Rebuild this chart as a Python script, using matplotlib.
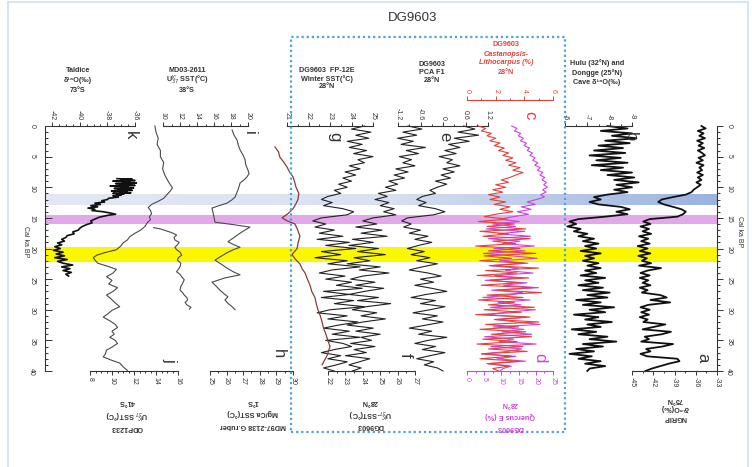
import matplotlib
matplotlib.use('Agg')
import matplotlib.pyplot as plt
from matplotlib.patches import Rectangle
from matplotlib.ticker import MultipleLocator
from matplotlib.colors import LinearSegmentedColormap
import numpy as np

plt.rcParams['font.family'] = ['Liberation Sans', 'DejaVu Sans']

# ---------------- data ----------------
age_04 = [0.0, 0.4, 0.8, 1.2, 1.6, 2.0, 2.4, 2.8, 3.2, 3.6,
          4.0, 4.4, 4.8, 5.2, 5.6, 6.0, 6.4, 6.8, 7.2, 7.6,
          8.0, 8.4, 8.8, 9.2, 9.6, 10.0, 10.4, 10.8, 11.2, 11.6,
          12.0, 12.4, 12.8, 13.2, 13.6, 14.0, 14.4, 14.8, 15.2, 15.6,
          16.0, 16.4, 16.8, 17.2, 17.6, 18.0, 18.4, 18.8, 19.2, 19.6,
          20.0, 20.4, 20.8, 21.2, 21.6, 22.0, 22.4, 22.8, 23.2, 23.6,
          24.0, 24.4, 24.8, 25.2, 25.6, 26.0, 26.4, 26.8, 27.2, 27.6,
          28.0, 28.4, 28.8, 29.2, 29.6, 30.0, 30.4, 30.8, 31.2, 31.6,
          32.0, 32.4, 32.8, 33.2, 33.6, 34.0, 34.4, 34.8, 35.2, 35.6,
          36.0, 36.4, 36.8, 37.2, 37.6, 38.0, 38.4, 38.8, 39.2, 39.6,
          40.0]

age_05 = [0.0, 0.5, 1.0, 1.5, 2.0, 2.5, 3.0, 3.5, 4.0, 4.5,
          5.0, 5.5, 6.0, 6.5, 7.0, 7.5, 8.0, 8.5, 9.0, 9.5,
          10.0, 10.5, 11.0, 11.5, 12.0, 12.5, 13.0, 13.5, 14.0, 14.5,
          15.0, 15.5, 16.0, 16.5, 17.0, 17.5, 18.0, 18.5, 19.0, 19.5,
          20.0, 20.5, 21.0, 21.5, 22.0, 22.5, 23.0, 23.5, 24.0, 24.5,
          25.0, 25.5, 26.0, 26.5, 27.0, 27.5, 28.0, 28.5, 29.0, 29.5,
          30.0, 30.5, 31.0, 31.5, 32.0, 32.5, 33.0, 33.5, 34.0, 34.5,
          35.0, 35.5, 36.0, 36.5, 37.0, 37.5, 38.0, 38.5, 39.0, 39.5,
          40.0]

# (a) NGRIP d18O
ngrip_d18o = [-35.2, -34.6, -35.7, -34.9, -35.5, -34.7, -35.8, -35.0, -35.6, -34.8,
              -35.7, -35.1, -34.7, -35.6, -35.0, -35.9, -34.9, -35.5, -35.1, -35.8,
              -35.0, -35.7, -35.2, -35.9, -35.3, -35.8, -36.3, -36.6, -37.4, -39.2,
              -40.8, -41.3, -40.5, -39.2, -38.0, -37.4, -37.8, -38.6, -42.5, -43.4,
              -42.4, -43.8, -42.6, -43.5, -42.3, -44.0, -42.7, -43.7, -42.5, -44.2,
              -42.8, -43.9, -42.4, -44.1, -42.9, -43.6, -42.3, -44.0, -40.9, -42.8,
              -43.8, -42.5, -43.9, -42.7, -43.5, -42.4, -43.9, -42.8, -43.6, -41.0,
              -40.1, -42.4, -39.6, -42.7, -43.8, -42.5, -43.7, -42.6, -43.9, -42.8,
              -43.4, -40.3, -41.9, -43.5, -39.5, -40.8, -43.2, -42.6, -43.7, -39.2,
              -40.7, -43.0, -42.4, -43.8, -42.9, -38.6, -38.3, -39.8, -41.0, -42.2,
              -43.1]

# (b) Hulu / Dongge cave d18O
hulu_d18o = [-7.9, -8.8, -7.6, -9.0, -8.1, -9.2, -7.8, -8.9, -7.5, -8.6,
             -7.3, -8.7, -7.1, -8.5, -7.4, -8.8, -7.2, -8.6, -7.6, -9.0,
             -7.9, -9.1, -8.2, -9.3, -8.3, -9.0, -8.2, -8.8, -7.9, -7.3,
             -7.6, -7.1, -7.5, -8.5, -8.9, -8.3, -8.8, -7.8, -6.6, -6.2,
             -6.5, -6.1, -6.7, -6.4, -7.0, -6.6, -7.3, -6.8, -7.5, -6.9,
             -7.4, -6.7, -7.6, -6.9, -7.3, -6.8, -7.5, -7.0, -7.6, -6.9,
             -7.4, -6.7, -7.8, -6.9, -7.5, -6.6, -7.7, -6.8, -8.0, -7.0,
             -7.9, -6.5, -7.6, -6.8, -8.2, -7.1, -7.8, -6.4, -7.5, -6.9,
             -8.1, -7.0, -7.6, -6.3, -7.4, -6.6, -7.9, -7.1, -8.3, -6.8,
             -7.7, -6.5, -7.3, -6.2, -7.2, -6.6, -7.6, -6.9, -7.8, -7.1,
             -7.0]

# (c) Castanopsis-Lithocarpus (%)
castanopsis_pct = [0.8, 1.3, 1.0, 1.7, 1.4, 2.0, 1.6, 2.3, 1.9, 2.6,
                   2.2, 2.9, 2.5, 3.2, 2.7, 3.4, 2.9, 3.7, 3.2, 3.9,
                   3.4, 3.0, 2.4, 2.9, 2.0, 2.7, 1.8, 2.5, 1.5, 2.3,
                   1.6, 2.7, 1.9, 3.0, 2.3, 3.2, 2.0, 1.2, 2.8, 0.8,
                   3.3, 1.4, 4.1, 0.9, 2.9, 1.1, 4.4, 1.8, 3.4, 0.6,
                   3.7, 1.5, 4.8, 1.2, 3.1, 0.9, 4.0, 1.7, 5.0, 1.3,
                   3.5, 0.7, 4.3, 1.6, 3.6, 1.0, 4.6, 2.1, 5.2, 1.4,
                   3.9, 0.8, 3.3, 1.5, 4.7, 1.2, 3.8, 0.6, 4.4, 1.9,
                   5.0, 1.3, 3.6, 0.9, 4.1, 1.7, 4.5, 1.1, 3.5, 0.7,
                   3.9, 1.5, 4.2, 1.0, 3.1, 0.9, 3.6, 1.4, 2.9, 1.8,
                   2.2]

# (d) Quercus E (%)
quercus_pct = [13.0, 14.5, 13.8, 15.6, 14.9, 16.4, 15.5, 17.3, 16.6, 18.2,
               17.5, 19.0, 18.3, 19.8, 19.1, 20.6, 19.7, 21.3, 20.5, 22.0,
               21.2, 22.6, 21.8, 23.1, 22.3, 23.4, 22.0, 23.0, 21.4, 22.5,
               20.2, 17.5, 19.8, 15.8, 18.6, 14.6, 17.9, 13.5, 9.8, 15.2,
               7.4, 14.1, 5.6, 16.8, 8.9, 18.5, 6.2, 15.4, 10.3, 19.6,
               7.8, 16.9, 4.8, 13.2, 20.4, 9.5, 17.7, 6.4, 15.0, 11.2,
               19.2, 8.1, 14.7, 5.3, 17.4, 10.6, 20.8, 7.2, 16.1, 12.5,
               4.6, 18.3, 9.1, 15.7, 6.8, 19.9, 11.4, 5.9, 17.2, 8.4,
               14.3, 21.2, 7.6, 16.5, 10.1, 18.8, 5.1, 13.6, 9.3, 20.1,
               7.0, 15.9, 11.8, 4.3, 14.2, 8.7, 17.0, 6.1, 12.9, 10.5,
               9.6]

# (e) DG9603 PCA F1
pca_f1 = [0.55, 0.85, 0.40, 0.95, 0.30, 0.70, 0.15, 0.45, 0.05, 0.35,
          -0.10, 0.25, 0.10, 0.45, 0.00, 0.30, -0.05, 0.20, -0.20, 0.10,
          -0.15, -0.35, -0.20, -0.55, -0.70, -0.45, -0.65, -0.20, 0.05, -0.25,
          -0.95, -1.10, -0.85, -1.05, -0.60, -0.90, -0.40, -0.75, -0.30, -0.65,
          -0.95, -0.50, -0.85, -0.35, -0.70, -0.15, -0.55, -0.90, -0.40, -0.05,
          -0.60, -0.25, -0.75, -0.30, 0.10, -0.45, -0.85, -0.20, -0.60, 0.05,
          -0.35, -0.80, -0.15, -0.55, 0.00, -0.45, -0.90, -0.30, -0.65, 0.10,
          -0.40, -0.75, -0.20, -0.55, 0.05, -0.35, -0.70, -0.25, -0.50, -0.15,
          0.0]

# (f) DG9603 UK37 SST
dg_uk37_sst = [26.6, 27.4, 26.3, 27.1, 26.0, 26.9, 26.2, 27.6, 26.5, 27.2,
               26.1, 26.8, 26.3, 27.0, 25.9, 26.6, 25.8, 26.4, 25.5, 26.0,
               25.3, 25.9, 24.9, 25.4, 24.7, 25.5, 25.0, 25.8, 25.2, 25.9,
               24.6, 24.0, 24.8, 23.6, 25.1, 23.9, 25.4, 23.4, 24.6, 23.2,
               24.9, 23.7, 25.3, 23.5, 24.4, 23.1, 25.0, 23.8, 25.5, 24.0,
               23.3, 24.7, 23.6, 25.2, 24.1, 23.2, 24.9, 23.7, 25.6, 24.2,
               23.4, 24.8, 23.9, 25.3, 24.0, 23.1, 24.6, 23.6, 25.0, 23.9,
               24.5, 23.3, 24.7, 23.5, 24.2, 23.0, 24.4, 23.8, 23.2, 23.9,
               23.4]

# (g) DG9603 FP-12E winter SST
fp12e_sst = [24.6, 24.0, 24.9, 24.2, 24.8, 23.8, 24.5, 23.9, 24.7, 24.1,
             25.0, 24.3, 24.6, 23.9, 24.4, 23.7, 24.2, 23.6, 24.0, 23.4,
             23.8, 23.2, 23.5, 22.9, 22.6, 23.1, 22.7, 23.6, 24.1, 23.8,
             22.6, 22.2, 22.8, 22.3, 23.2, 22.5, 23.6, 22.4, 23.9, 22.8,
             24.2, 22.6, 23.5, 22.3, 23.8, 22.9, 24.4, 23.1, 22.5, 23.7,
             22.8, 24.0, 23.3, 24.5, 22.7, 23.9, 22.6, 24.1, 23.2, 24.6,
             23.0, 22.4, 23.8, 22.9, 24.3, 23.4, 22.7, 23.9, 23.1, 24.4,
             22.8, 23.6, 24.0, 23.2, 22.6, 23.5, 22.9, 23.8, 23.3, 22.7,
             23.2]

fp12e_trend_age = [3.4, 4.2, 5.1, 5.9, 6.7, 7.5, 8.3, 9.2, 10.0, 11.0,
                   12.0, 12.8, 13.5, 14.3, 15.0, 15.5, 16.0, 17.0, 18.0, 19.0,
                   20.0, 21.0, 21.8, 22.5, 23.3, 24.0, 25.0, 26.0, 27.0, 28.0,
                   29.0, 30.0, 31.0, 32.0, 33.0, 34.0, 35.0, 36.0, 37.5, 39.0]
fp12e_trend = [20.44, 20.60, 20.67, 20.85, 21.00, 21.12, 21.28, 21.36, 21.42, 21.55,
               21.51, 21.40, 21.28, 21.05, 20.77, 21.02, 21.37, 21.50, 21.60, 21.52,
               21.47, 21.23, 21.40, 21.60, 21.70, 21.84, 21.95, 22.07, 22.15, 22.30,
               22.36, 22.44, 22.55, 22.63, 22.70, 22.81, 22.90, 23.00, 22.86, 22.63]

# (h) MD97-2138 Mg/Ca SST
md972138_age = [0.65, 1.5, 2.3, 3.1, 3.9, 4.7, 5.5, 6.3, 7.2, 7.8,
                8.3, 8.8, 9.3, 9.9, 10.4, 11.0, 11.6, 12.1, 12.6, 13.0,
                13.4, 14.1, 14.9, 15.7, 16.1, 16.5, 17.0, 17.5, 18.2, 18.9,
                19.4, 19.8, 20.2, 20.7, 21.3, 21.9, 22.5, 23.2, 23.8, 24.3,
                24.8, 25.5, 26.1, 26.8, 27.4, 27.9, 28.4, 29.0, 29.5, 30.0]
md972138_sst = [26.33, 26.45, 26.63, 26.70, 26.81, 26.98, 27.11, 27.15, 27.29, 27.35,
                27.23, 27.05, 26.81, 26.75, 26.69, 26.60, 26.51, 26.30, 26.02, 25.55,
                25.12, 25.18, 25.24, 25.30, 26.40, 27.41, 27.10, 26.81, 26.45, 26.08,
                26.45, 26.81, 26.40, 26.02, 25.65, 25.30, 25.65, 26.02, 26.40, 26.81,
                25.90, 25.12, 25.35, 25.60, 25.85, 26.08, 25.90, 26.10, 26.33, 26.51]

# (i) MD03-2611 UK37 SST
md032611_age = [16.6, 16.8, 17.4, 17.8, 18.2, 18.6, 19.0, 19.4, 19.8, 20.2,
                20.6, 21.1, 21.5, 21.9, 22.4, 23.0, 23.4, 23.8, 24.2, 24.6,
                25.1, 25.7, 26.2, 26.8, 27.2, 27.6, 28.0, 28.4, 28.8, 29.2,
                29.6, 29.9]
md032611_sst = [8.9, 9.7, 11.0, 11.6, 11.3, 11.4, 11.9, 11.7, 11.4, 11.6,
                12.0, 12.2, 11.8, 11.7, 12.1, 12.0, 11.8, 11.6, 12.0, 12.2,
                12.5, 12.3, 12.1, 12.0, 12.3, 12.5, 12.8, 12.9, 12.6, 12.8,
                13.3, 13.1]

# (j) ODP1233 UK37 SST
odp1233_age = [0.0, 1.0, 2.0, 3.0, 4.0, 5.0, 6.0, 7.0, 8.0, 9.0,
               9.6, 10.1, 10.6, 11.2, 11.8, 12.3, 12.8, 13.3, 13.8, 14.3,
               14.8, 15.3, 15.8, 16.4, 17.0, 17.6, 18.1, 18.6, 19.1, 19.6,
               20.2, 20.7, 21.1, 21.5, 22.0, 22.4, 22.9, 23.4, 24.0, 24.6,
               25.2, 25.8, 26.4, 27.0, 27.6, 28.2, 28.9, 29.5, 30.1, 30.7,
               31.2, 31.8, 32.4, 32.9, 33.5, 34.0, 34.5, 35.0, 35.5, 36.1,
               36.6, 37.2, 37.7, 38.2, 38.7, 39.3, 39.9]
odp1233_sst = [13.9, 14.0, 14.2, 14.1, 14.4, 14.4, 14.7, 14.6, 14.8, 15.1,
               15.3, 15.5, 15.3, 15.0, 14.7, 14.2, 13.6, 13.3, 13.5, 13.6,
               13.4, 13.5, 13.2, 13.0, 12.6, 12.0, 11.6, 11.4, 11.0, 10.8,
               10.4, 9.3, 8.6, 8.3, 8.5, 8.7, 9.6, 10.4, 10.1, 9.5,
               10.0, 9.7, 10.5, 10.1, 9.5, 9.9, 10.3, 10.7, 10.0, 9.6,
               9.2, 9.8, 10.3, 10.5, 10.0, 10.2, 9.8, 10.3, 10.5, 10.0,
               9.5, 9.4, 9.2, 9.9, 10.7, 11.0, 11.4]

# (k) Taldice d18O
taldice_age = [8.6, 8.7, 8.8, 8.9, 9.0, 9.1, 9.2, 9.3, 9.4, 9.5,
               9.6, 9.7, 9.8, 9.9, 10.0, 10.1, 10.2, 10.3, 10.4, 10.5,
               10.6, 10.7, 10.8, 10.9, 11.0, 11.1, 11.2, 11.3, 11.4, 11.6,
               11.8, 12.0, 12.2, 12.4, 12.6, 12.8, 13.0, 13.2, 13.4, 13.6,
               13.8, 14.0, 14.2, 14.4, 14.6, 14.9, 15.2, 15.5, 15.8, 16.1,
               16.4, 16.7, 17.0, 17.3, 17.6, 17.9, 18.2, 18.5, 18.8, 19.1,
               19.4, 19.7, 20.0, 20.3, 20.6, 20.9, 21.2, 21.5, 21.8, 22.1,
               22.4, 22.7, 23.0, 23.3, 23.6, 23.9, 24.2, 24.5]
taldice_d18o = [-37.3, -36.2, -37.0, -36.0, -37.6, -36.4, -36.9, -35.9, -37.4, -36.3,
                -37.1, -36.0, -37.8, -36.5, -37.0, -36.1, -37.5, -36.4, -37.2, -36.2,
                -37.7, -36.6, -37.1, -36.3, -37.6, -36.8, -37.3, -37.0, -37.6, -37.2,
                -37.9, -38.0, -38.4, -38.2, -38.9, -38.5, -39.2, -38.7, -39.4, -38.9,
                -39.1, -38.3, -37.8, -37.4, -38.0, -38.6, -38.9, -39.2, -39.1, -39.5,
                -39.8, -40.0, -40.1, -40.5, -40.4, -40.9, -41.0, -41.3, -41.1, -41.6,
                -41.3, -41.8, -41.4, -41.9, -41.2, -41.7, -41.1, -41.8, -40.9, -41.6,
                -41.2, -40.5, -41.3, -40.7, -41.2, -40.6, -41.0, -40.8]

# climate event bands (ka BP)
band_yd = (11.2, 12.9)
band_h1 = (14.6, 16.0)
band_lgm = (19.75, 22.2)

# tick labels
k_ticks, k_labels = [-42, -40, -38, -36], ['-42', '-40', '-38', '-36']
j_ticks, j_labels = [8, 10, 12, 14, 16], ['8', '10', '12', '14', '16']
i_ticks, i_labels = [10, 12, 14, 16, 18, 20], ['10', '12', '14', '16', '18', '20']
h_ticks, h_labels = [25, 26, 27, 28, 29, 30], ['25', '26', '27', '28', '29', '30']
g_ticks, g_labels = [21, 22, 23, 24, 25], ['21', '22', '23', '24', '25']
f_ticks, f_labels = [22, 23, 24, 25, 26, 27], ['22', '23', '24', '25', '26', '27']
e_ticks, e_labels = [-1.2, -0.6, 0, 0.6, 1.2], ['-1.2', '-0.6', '0', '0.6', '1.2']
c_ticks, c_labels = [0, 2, 4, 6], ['0', '2', '4', '6']
d_ticks, d_labels = [0, 5, 10, 15, 20, 25], ['0', '5', '10', '15', '20', '25']
b_ticks, b_labels = [-6, -7, -8, -9], ['-6', '-7', '-8', '-9']
a_ticks, a_labels = [-45, -42, -39, -36, -33], ['-45', '-42', '-39', '-36', '-33']
age_ticks = [0, 5, 10, 15, 20, 25, 30, 35, 40]

# ---------------- layout ----------------
W, H = 752, 467
Y_TOP, Y_BOT = 126, 371
RED = '#e2423c'
MAG = '#cc44dd'
TXT = '#333333'

fig = plt.figure(figsize=(W / 100, H / 100), dpi=100)
fig.patch.set_facecolor('white')


def fx(px):
    return px / W


def fy(py):
    return 1 - py / H


def base_axes(x0, x1):
    ax = fig.add_axes([fx(x0), fy(Y_BOT), fx(x1) - fx(x0), fy(Y_TOP) - fy(Y_BOT)])
    ax.set_facecolor('none')
    ax.set_ylim(40, 0)
    return ax


def panel(x0, x1, lo, hi, side, ticks, labels, minor, color=TXT, offset=0):
    ax = base_axes(x0, x1)
    ax.set_xlim(lo, hi)
    ax.yaxis.set_visible(False)
    for s in ['left', 'right', 'top', 'bottom']:
        ax.spines[s].set_visible(s == side)
    ax.spines[side].set_color(color)
    ax.spines[side].set_linewidth(0.8)
    if offset:
        ax.spines[side].set_position(('outward', offset))
    ax.xaxis.set_ticks_position(side)
    ax.set_xticks(ticks, labels=labels)
    ax.xaxis.set_minor_locator(MultipleLocator(minor))
    ax.tick_params(axis='x', which='both', direction='out', colors=color,
                   labelsize=5, width=0.7, pad=1.5, labelrotation=-90)
    ax.tick_params(axis='x', which='major', length=3)
    ax.tick_params(axis='x', which='minor', length=1.6)
    ax.set_xlim(lo, hi)
    return ax


# base axes with the age scale and the event bands
ax0 = base_axes(45, 717)
ax0.set_xlim(0, 1)
for s in ['top', 'bottom', 'right']:
    ax0.spines[s].set_visible(False)
ax0.spines['left'].set_linewidth(0.8)
ax0.spines['left'].set_color(TXT)
ax0.xaxis.set_visible(False)
ax0.set_yticks(age_ticks, labels=[str(t) for t in age_ticks])
ax0.yaxis.set_minor_locator(MultipleLocator(1))
ax0.tick_params(axis='y', which='both', direction='in', colors=TXT, labelsize=5,
                width=0.7, pad=7, labelrotation=-90)
ax0.tick_params(axis='y', which='major', length=5)
ax0.tick_params(axis='y', which='minor', length=2.5)

grad = np.linspace(0, 1, 256)[None, :]
blue_cmap = LinearSegmentedColormap.from_list('yd', ['#e3e8f4', '#d9e1f1', '#9bb2df'])
ax0.imshow(grad, cmap=blue_cmap, aspect='auto', extent=(0, 1, band_yd[1], band_yd[0]),
           zorder=0)
ax0.axhspan(band_h1[0], band_h1[1], color='#e2a8ea', lw=0, zorder=0)
ax0.axhspan(band_lgm[0], band_lgm[1], color='#fbf700', lw=0, zorder=0)
ax0.set_xlim(0, 1)
ax0.set_ylim(40, 0)

axR = base_axes(45, 717)
axR.xaxis.set_visible(False)
for s in ['top', 'bottom', 'left']:
    axR.spines[s].set_visible(False)
axR.spines['right'].set_linewidth(0.8)
axR.spines['right'].set_color(TXT)
axR.yaxis.set_ticks_position('right')
axR.set_yticks(age_ticks, labels=[str(t) for t in age_ticks])
axR.yaxis.set_minor_locator(MultipleLocator(1))
axR.tick_params(axis='y', which='both', direction='out', colors=TXT, labelsize=5,
                width=0.7, pad=2, labelrotation=-90)
axR.tick_params(axis='y', which='major', length=4)
axR.tick_params(axis='y', which='minor', length=2)
axR.set_ylim(40, 0)

fig.text(fx(25), fy(242), 'Cal ka BP', rotation=-90, fontsize=5, color=TXT,
         ha='center', va='center')
fig.text(fx(740), fy(232), 'Cal ka BP', rotation=-90, fontsize=5, color=TXT,
         ha='center', va='center')

# panels
ax_k = panel(52, 135, -42, -36, 'top', k_ticks, k_labels, 0.5)
ax_j = panel(90, 178, 8, 16, 'bottom', j_ticks, j_labels, 0.5)
ax_i = panel(163, 248, 10, 20, 'top', i_ticks, i_labels, 1)
ax_h = panel(210, 293, 25, 30, 'bottom', h_ticks, h_labels, 0.5)
ax_g = panel(287, 373, 21, 25, 'top', g_ticks, g_labels, 0.5)
ax_f = panel(328, 415, 22, 27, 'bottom', f_ticks, f_labels, 0.5)
ax_e = panel(398, 488, -1.2, 1.2, 'top', e_ticks, e_labels, 0.3)
ax_d = panel(467, 553, 0, 25, 'bottom', d_ticks, d_labels, 2.5, color=MAG)
ax_c = panel(467, 553, 0, 6, 'top', c_ticks, c_labels, 1, color=RED, offset=19)
ax_b = panel(565, 632, -6, -9, 'top', b_ticks, b_labels, 0.5)
ax_a = panel(632, 717, -45, -33, 'bottom', a_ticks, a_labels, 1.5)

kw = dict(clip_on=False, solid_joinstyle='round')
ax_k.plot(taldice_d18o, taldice_age, color='#111111', lw=1.2, **kw)
ax_j.plot(odp1233_sst, odp1233_age, color='#4a4a4a', lw=0.8, **kw)
ax_i.plot(md032611_sst, md032611_age, color='#4a4a4a', lw=0.8, **kw)
ax_h.plot(md972138_sst, md972138_age, color='#4a4a4a', lw=0.8, **kw)
ax_g.plot(fp12e_sst, age_05, color='#222222', lw=0.8, **kw)
ax_g.plot(fp12e_trend, fp12e_trend_age, color='#8b3a3a', lw=0.9, **kw)
ax_f.plot(dg_uk37_sst, age_05, color='#222222', lw=0.8, **kw)
ax_e.plot(pca_f1, age_05, color='#222222', lw=0.8, **kw)
ax_d.plot(quercus_pct, age_04, color=MAG, lw=0.8, **kw)
ax_c.plot(castanopsis_pct, age_04, color=RED, lw=0.8, **kw)
ax_b.plot(hulu_d18o, age_04, color='#111111', lw=1.3, **kw)
ax_a.plot(ngrip_d18o, age_04, color='#111111', lw=1.3, **kw)

# panel letters
letters = [('k', 130, 135, TXT), ('j', 170, 360, TXT), ('i', 249, 133, TXT),
           ('h', 278, 354, TXT), ('g', 335, 137, TXT), ('e', 445, 137, TXT),
           ('c', 530, 115, RED), ('b', 630, 137, TXT), ('f', 405, 355, TXT),
           ('d', 540, 358, MAG), ('a', 703, 358, TXT)]
for s, x, y, c in letters:
    fig.text(fx(x), fy(y), s, rotation=-90, fontsize=12, color=c, ha='center', va='center')

# panel titles (top, horizontal)
tkw = dict(ha='center', va='center', fontsize=5.2, fontweight='bold', color=TXT)
top_titles = [
    (78, [(70, 'Taldice'), (80, 'δ¹⁸O(‰)'), (91, '73°S')]),
    (187, [(70, 'MD03-2611'), (80, r"U$^{\mathrm{K'}}_{37}$ SST(°C)"), (91, '38°S')]),
    (327, [(71, 'DG9603  FP-12E'), (79, 'Winter SST(°C)'), (87, '28°N')]),
    (432, [(65, 'DG9603'), (73, 'PCA F1'), (80, '28°N')]),
    (597, [(63, 'Hulu (32°N) and'), (73, 'Dongge (25°N)'), (83, 'Cave δ¹⁸O(‰)')]),
]
for x, lines in top_titles:
    for y, s in lines:
        fig.text(fx(x), fy(y), s, **tkw)
for y, s, st in [(44, 'DG9603', 'normal'), (54, 'Castanopsis-', 'italic'),
                 (63, 'Lithocarpus (%)', 'italic'), (72, '28°N', 'normal')]:
    fig.text(fx(506), fy(y), s, ha='center', va='center', fontsize=5.2,
             fontweight='bold', color=RED, style=st)

# panel titles (bottom, upside down)
bkw = dict(ha='center', va='center', fontsize=5.2, fontweight='bold', rotation=180)
bottom_titles = [
    (127, TXT, [(402, '41°S'), (414, r"U$^{\mathrm{K'}}_{37}$ SST(°C)"), (427, 'ODP1233')]),
    (253, TXT, [(402, '1°S'), (413, 'Mg/Ca SST(°C)'), (425, 'MD97-2138 G.ruber')]),
    (370, TXT, [(402, '28°N'), (413, r"U$^{\mathrm{K'}}_{37}$-SST(°C)"), (425, 'DG9603')]),
    (510, MAG, [(403, '28°N'), (415, 'Quercus E (%)'), (427, 'DG9603')]),
    (675, TXT, [(399, '75°N'), (408, 'δ¹⁸O(‰)'), (418, 'NGRIP')]),
]
for x, c, lines in bottom_titles:
    for y, s in lines:
        fig.text(fx(x), fy(y), s, color=c, **bkw)

# title, dotted frame, outer border
fig.text(fx(413), fy(18), 'DG9603', ha='center', va='center', fontsize=9.5, color=TXT)
fig.add_artist(Rectangle((fx(291), fy(432)), fx(565) - fx(291), fy(37) - fy(432),
                         transform=fig.transFigure, fill=False, ec='#4aa3dc', lw=1.6,
                         ls=(0, (1, 1.3))))
fig.add_artist(Rectangle((fx(8), fy(500)), fx(748) - fx(8), fy(2) - fy(500),
                         transform=fig.transFigure, fill=False, ec='#d3e6f5', lw=1.4))

fig.savefig('out.png', dpi=100, facecolor='white')
